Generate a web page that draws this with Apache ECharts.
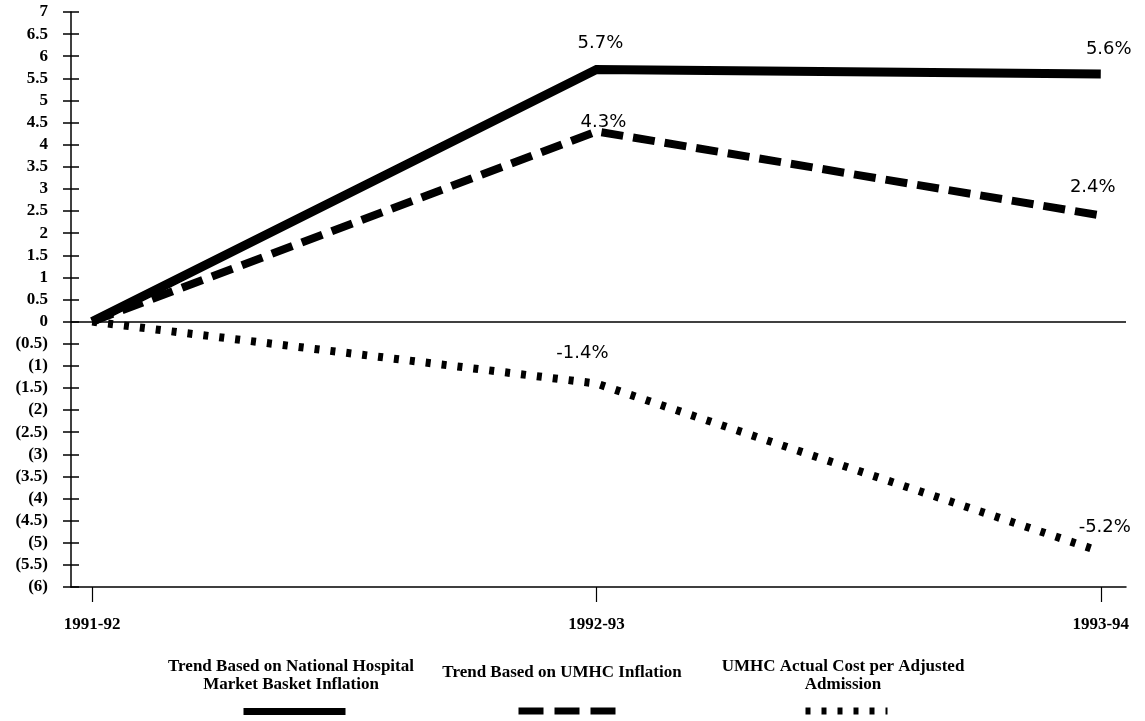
<!DOCTYPE html>
<html>
<head>
<meta charset="utf-8">
<script src="https://cdn.jsdelivr.net/npm/echarts@6/dist/echarts.min.js"></script>
<style>
html,body{margin:0;padding:0;background:#fff;}
#chart{width:1145px;height:721px;}
</style>
</head>
<body>
<div id="chart"></div>
<script>
// ---- data ----
const CATEGORIES = ['1991-92', '1992-93', '1993-94'];
const NATIONAL = [0, 5.7, 5.6];
const UMHC_INFL = [0, 4.3, 2.4];
const UMHC_ACTUAL = [0, -1.4, -5.2];
const Y_TICK_LABELS = ['(6)', '(5.5)', '(5)', '(4.5)', '(4)', '(3.5)', '(3)', '(2.5)', '(2)', '(1.5)', '(1)', '(0.5)',
  '0', '0.5', '1', '1.5', '2', '2.5', '3', '3.5', '4', '4.5', '5', '5.5', '6', '6.5', '7'];
const SERIES_NAMES = [
  'Trend Based on National Hospital\nMarket Basket Inflation',
  'Trend Based on UMHC Inflation',
  'UMHC Actual Cost per Adjusted\nAdmission'
];

// ---- styling (not data) ----
const Y_MIN = -6, Y_MAX = 7, Y_STEP = 0.5;
const LABEL_OFFSETS = [
  [[0, 0], [4, -26], [8, -25]],
  [[0, 0], [7, -9], [-8, -28]],
  [[0, 0], [-14, -30], [4, -24]]
];
const SERIF = '"Liberation Serif", "Times New Roman", serif';
const SANS = '"DejaVu Sans", "Liberation Sans", sans-serif';

function buildData(values, si) {
  return values.map((v, i) => ({
    value: [i, v],
    label: { show: i > 0, offset: LABEL_OFFSETS[si][i] }
  }));
}

const chart = echarts.init(document.getElementById('chart'), null, { renderer: 'canvas' });

const labelCommon = {
  show: true,
  position: 'inside',
  fontFamily: SANS,
  fontSize: 18,
  color: '#000',
  formatter: p => p.value[1] + '%'
};

const yLabelFmt = v => {
  const idx = Math.round((v - Y_MIN) / Y_STEP);
  return Y_TICK_LABELS[idx] !== undefined ? Y_TICK_LABELS[idx] : '';
};

const legendFont = 'bold 17px ' + SERIF;

const option = {
  animation: false,
  backgroundColor: '#fff',
  grid: { left: 71, right: 19, top: 12, bottom: 134, containLabel: false, outerBoundsMode: 'none' },
  xAxis: {
    type: 'value',
    min: -0.042,
    max: 2.05,
    splitLine: { show: false },
    axisLine: { show: true, onZero: false, lineStyle: { color: '#000', width: 1.5 } },
    axisTick: { show: true, customValues: [0, 1, 2], length: 15, lineStyle: { color: '#000', width: 1.2 } },
    axisLabel: {
      customValues: [0, 1, 2],
      formatter: v => CATEGORIES[Math.round(v)],
      margin: 29,
      fontFamily: SERIF,
      fontWeight: 'bold',
      fontSize: 17,
      color: '#000'
    }
  },
  yAxis: [
    {
      type: 'value',
      min: Y_MIN, max: Y_MAX, interval: Y_STEP,
      splitLine: { show: false },
      axisLine: { show: true, onZero: false, lineStyle: { color: '#000', width: 1.5 } },
      axisTick: { show: true, inside: false, length: 8, lineStyle: { color: '#000', width: 1.5 } },
      axisLabel: {
        formatter: yLabelFmt,
        margin: 23,
        fontFamily: SERIF,
        fontWeight: 'bold',
        fontSize: 17,
        color: '#000'
      }
    },
    {
      type: 'value',
      position: 'left',
      min: Y_MIN, max: Y_MAX, interval: Y_STEP,
      splitLine: { show: false },
      axisLine: { show: false, onZero: false },
      axisTick: { show: true, inside: true, length: 8, lineStyle: { color: '#000', width: 1.5 } },
      axisLabel: { show: false }
    }
  ],
  legend: [
    {
      data: [SERIES_NAMES[0]], left: 240, top: 708, padding: 0,
      itemWidth: 102, itemHeight: 7, formatter: () => '', selectedMode: false,
      lineStyle: { width: 7, type: 'solid', color: '#000', cap: 'butt' },
      itemStyle: { opacity: 0 }
    },
    {
      data: [SERIES_NAMES[1]], left: 515, top: 707, padding: 0,
      itemWidth: 97, itemHeight: 8, formatter: () => '', selectedMode: false,
      lineStyle: { width: 7, type: [25, 11], color: '#000', cap: 'butt' },
      itemStyle: { opacity: 0 }
    },
    {
      data: [SERIES_NAMES[2]], left: 802, top: 707, padding: 0,
      itemWidth: 82, itemHeight: 8, formatter: () => '', selectedMode: false,
      lineStyle: { width: 7, type: [5, 11], color: '#000', cap: 'butt' },
      itemStyle: { opacity: 0 }
    }
  ],
  graphic: [
    {
      type: 'text', x: 291, y: 658, silent: true,
      style: { text: SERIES_NAMES[0], align: 'center', verticalAlign: 'top', font: legendFont, lineHeight: 18, fill: '#000' }
    },
    {
      type: 'text', x: 562, y: 664, silent: true,
      style: { text: SERIES_NAMES[1], align: 'center', verticalAlign: 'top', font: legendFont, lineHeight: 18, fill: '#000' }
    },
    {
      type: 'text', x: 843, y: 658, silent: true,
      style: { text: SERIES_NAMES[2], align: 'center', verticalAlign: 'top', font: legendFont, lineHeight: 18, fill: '#000' }
    }
  ],
  series: [
    {
      name: SERIES_NAMES[0],
      type: 'line',
      data: buildData(NATIONAL, 0),
      symbol: 'circle', symbolSize: 0,
      itemStyle: { color: '#000' },
      lineStyle: { color: '#000', width: 9, type: 'solid', join: 'miter', cap: 'butt' },
      label: labelCommon,
      z: 3,
      markLine: {
        silent: true,
        symbol: ['none', 'none'],
        label: { show: false },
        lineStyle: { color: '#000', width: 1.5, type: 'solid' },
        data: [{ yAxis: 0 }],
        z: 1
      }
    },
    {
      name: SERIES_NAMES[1],
      type: 'line',
      data: buildData(UMHC_INFL, 1),
      symbol: 'circle', symbolSize: 0,
      itemStyle: { color: '#000' },
      lineStyle: { color: '#000', width: 8, type: [22, 10], join: 'miter', cap: 'butt' },
      label: labelCommon,
      z: 3
    },
    {
      name: SERIES_NAMES[2],
      type: 'line',
      data: buildData(UMHC_ACTUAL, 2),
      symbol: 'circle', symbolSize: 0,
      itemStyle: { color: '#000' },
      lineStyle: { color: '#000', width: 8, type: [5, 11], join: 'miter', cap: 'butt' },
      label: labelCommon,
      z: 3
    }
  ]
};

chart.setOption(option);
</script>
</body>
</html>
